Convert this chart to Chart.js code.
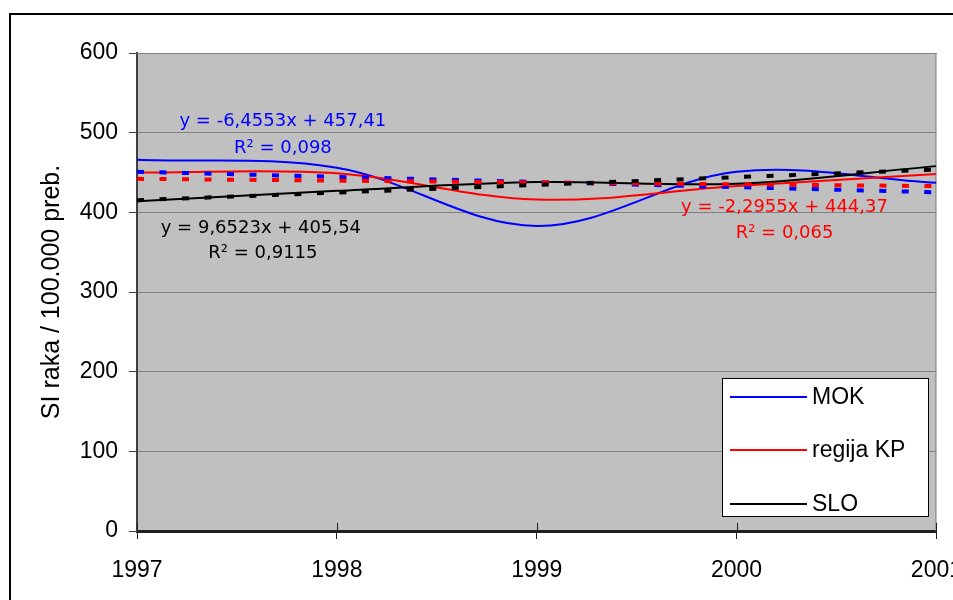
<!DOCTYPE html>
<html>
<head>
<meta charset="utf-8">
<script src="https://cdn.jsdelivr.net/npm/chart.js@4/dist/chart.umd.min.js"></script>
<style>
  html, body { margin: 0; padding: 0; background: #fff; overflow: hidden; width: 953px; height: 600px; }
  #frame { position: absolute; left: 9px; top: 13px; width: 2000px; height: 2000px; border: 2px solid #000; box-sizing: border-box; }
  #wrap { position: absolute; left: 0; top: 0; width: 980px; height: 600px; }
</style>
</head>
<body>
<div id="frame"></div>
<div id="wrap"><canvas id="c" width="980" height="600"></canvas></div>
<script>
// ---- data ----
const years = [1997, 1998, 1999, 2000, 2001];
const seriesNames = ['MOK', 'regija KP', 'SLO'];
const mokValues = [466, 456, 383, 451, 437];
const kpValues = [450, 449, 416, 433, 448];
const sloValues = [414, 427, 438, 436, 458];
const seriesColors = ['#0000ff', '#ff0000', '#000000'];
const trendSlopes = [-6.4553, -2.2955, 9.6523];
const trendIntercepts = [457.41, 444.37, 405.54];
const trendLabels = ['y = -6,4553x + 457,41', 'y = -2,2955x + 444,37', 'y = 9,6523x + 405,54'];
const r2Labels = ['R² = 0,098', 'R² = 0,065', 'R² = 0,9115'];
const yTicks = [0, 100, 200, 300, 400, 500, 600];
const yTitle = 'SI raka / 100.000 preb.';

const seriesValues = [mokValues, kpValues, sloValues];

// trend line endpoints (x index 1..n as in the spreadsheet's equation)
function trendPoints(k) {
  const n = years.length;
  return [
    { x: years[0], y: trendIntercepts[k] + trendSlopes[k] * 1 },
    { x: years[n - 1], y: trendIntercepts[k] + trendSlopes[k] * n }
  ];
}

const datasets = [];
// trend lines (on top)
[2, 1, 0].forEach((k, i) => {
  datasets.push({
    label: 'trend ' + seriesNames[k],
    data: trendPoints(k),
    borderColor: seriesColors[k],
    borderWidth: 4,
    borderDash: [7, 15.5],
    borderCapStyle: 'butt',
    pointRadius: 0,
    tension: 0,
    order: i
  });
});
seriesNames.forEach((name, k) => {
  datasets.push({
    label: name,
    data: years.map((y, i) => ({ x: y, y: seriesValues[k][i] })),
    borderColor: seriesColors[k],
    borderWidth: 2,
    pointRadius: 0,
    tension: 0.35,
    order: 10 - k
  });
});

// annotation placement (in axis units: year, value)
const annotations = [
  { text: trendLabels[0], x: 1997.73, y: 514, color: '#0000ff' },
  { text: r2Labels[0], x: 1997.73, y: 480, color: '#0000ff' },
  { text: trendLabels[2], x: 1997.62, y: 380, color: '#000000' },
  { text: r2Labels[2], x: 1997.63, y: 349, color: '#000000' },
  { text: trendLabels[1], x: 2000.24, y: 406, color: '#ff0000' },
  { text: r2Labels[1], x: 2000.24, y: 374, color: '#ff0000' }
];

const decor = {
  id: 'decor',
  beforeDraw(chart) {
    const { ctx, chartArea: a } = chart;
    ctx.save();
    ctx.fillStyle = '#c0c0c0';
    ctx.fillRect(a.left, a.top, a.right - a.left, a.bottom - a.top);
    ctx.restore();
  },
  beforeDatasetsDraw(chart) {
    const { ctx, chartArea: a, scales } = chart;
    ctx.save();
    ctx.strokeStyle = '#808080';
    ctx.lineWidth = 1;
    ctx.beginPath();
    ctx.moveTo(a.left, a.top + 0.5);
    ctx.lineTo(a.right, a.top + 0.5);
    ctx.moveTo(a.right - 0.5, a.top);
    ctx.lineTo(a.right - 0.5, a.bottom);
    ctx.stroke();
    // upward part of x-axis cross ticks
    ctx.strokeStyle = '#202020';
    ctx.beginPath();
    years.forEach(y => {
      const px = Math.round(scales.x.getPixelForValue(y)) + 0.5;
      ctx.moveTo(px, a.bottom);
      ctx.lineTo(px, a.bottom - 8);
    });
    ctx.stroke();
    ctx.restore();
  },
  afterDraw(chart) {
    const { ctx, scales } = chart;
    ctx.save();
    ctx.font = '18px "DejaVu Sans", Verdana, sans-serif';
    ctx.textAlign = 'center';
    ctx.textBaseline = 'middle';
    annotations.forEach(an => {
      ctx.fillStyle = an.color;
      ctx.fillText(an.text, scales.x.getPixelForValue(an.x), scales.y.getPixelForValue(an.y));
    });
    // legend
    const bx = 722, by = 378, bw = 207, bh = 139;
    ctx.fillStyle = '#ffffff';
    ctx.fillRect(bx, by, bw, bh);
    ctx.strokeStyle = '#000';
    ctx.lineWidth = 1;
    ctx.strokeRect(bx + 0.5, by + 0.5, bw - 1, bh - 1);
    const rows = [397, 450, 504];
    ctx.font = '23px "Liberation Sans", Arial, sans-serif';
    ctx.textAlign = 'left';
    seriesNames.forEach((name, k) => {
      ctx.strokeStyle = seriesColors[k];
      ctx.lineWidth = 2;
      ctx.beginPath();
      ctx.moveTo(730, rows[k]);
      ctx.lineTo(807, rows[k]);
      ctx.stroke();
      ctx.fillStyle = '#000';
      ctx.fillText(name, 812, rows[k] + 1);
    });
    ctx.restore();
  }
};

new Chart(document.getElementById('c'), {
  type: 'line',
  data: { datasets },
  options: {
    responsive: false,
    animation: false,
    layout: { padding: { left: 0, top: 53, right: 42, bottom: 0 } },
    plugins: { legend: { display: false }, tooltip: { enabled: false } },
    scales: {
      x: {
        type: 'linear',
        min: 1997, max: 2001,
        afterBuildTicks: s => { s.ticks = years.map(v => ({ value: v })); },
        afterFit: s => { s.height = 69; },
        ticks: {
          callback: v => String(v),
          color: '#000',
          font: { family: '"Liberation Sans", Arial, sans-serif', size: 23 },
          padding: 18,
          maxRotation: 0,
          autoSkip: false
        },
        grid: { drawOnChartArea: false, tickLength: 8, tickColor: '#202020', lineWidth: 1 },
        border: { color: '#202020', width: 3 }
      },
      y: {
        min: 0, max: 600,
        afterBuildTicks: s => { s.ticks = yTicks.map(v => ({ value: v })); },
        afterFit: s => { s.width = 137; },
        ticks: {
          color: '#000',
          font: { family: '"Liberation Sans", Arial, sans-serif', size: 23 },
          padding: 11
        },
        grid: { color: '#808080', lineWidth: 1, tickLength: 8, tickColor: '#404040' },
        border: { color: '#404040', width: 2 },
        title: {
          display: true,
          text: yTitle,
          color: '#000',
          font: { family: '"Liberation Sans", Arial, sans-serif', size: 25 },
          padding: { top: 37, bottom: 0 }
        }
      }
    }
  },
  plugins: [decor]
});
</script>
</body>
</html>
